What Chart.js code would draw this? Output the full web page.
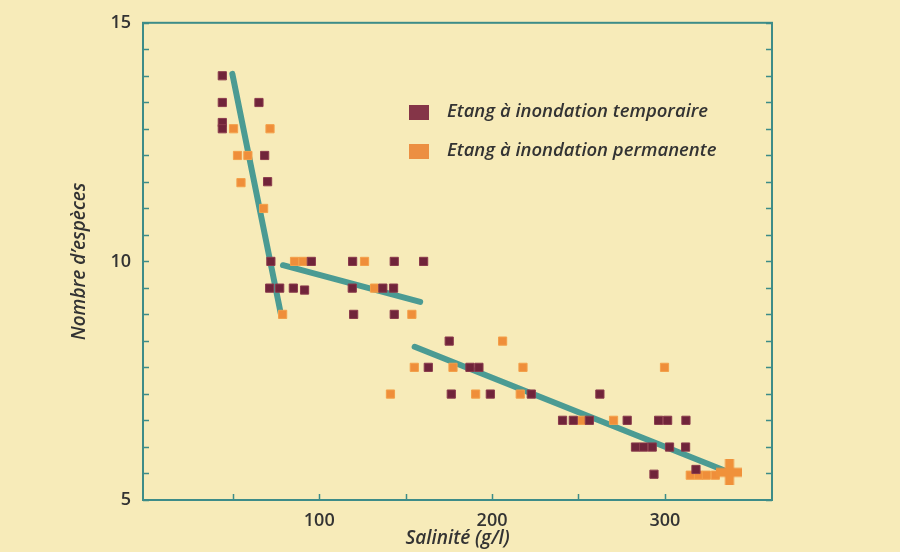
<!DOCTYPE html>
<html lang="fr">
<head>
<meta charset="utf-8">
<title>Nombre d'espèces et salinité</title>
<script src="https://cdn.jsdelivr.net/npm/chart.js@4.4.1/dist/chart.umd.min.js"></script>
<style>
  html, body { margin: 0; padding: 0; background: #f7ebb9; }
  #wrap { width: 900px; height: 552px; position: relative; }
</style>
</head>
<body>
<div id="wrap"><canvas id="graphique"></canvas></div>
<script>
// Etang à inondation temporaire (salinité g/l, nombre d'espèces)
const tempSalinite = [43.9, 43.9, 65.1, 43.9, 43.9, 68.4, 70.1, 72.0, 95.4, 119.3, 143.4, 160.4,
  71.3, 77.1, 85.0, 91.5, 119.1, 136.8, 143.0, 119.9, 143.4, 175.2, 163.1, 187.2, 192.4,
  176.4, 199.0, 222.7, 262.4, 240.8, 247.0, 256.3, 278.2, 296.4, 301.6, 312.2,
  283.0, 287.7, 292.7, 302.7, 312.0, 293.7, 318.0];
const tempEspeces = [13.89, 13.33, 13.33, 12.91, 12.78, 12.22, 11.67, 10.0, 10.0, 10.0, 10.0, 10.0,
  9.44, 9.44, 9.44, 9.4, 9.44, 9.44, 9.44, 8.89, 8.89, 8.33, 7.78, 7.78, 7.78,
  7.22, 7.22, 7.22, 7.22, 6.67, 6.67, 6.67, 6.67, 6.67, 6.67, 6.67,
  6.11, 6.11, 6.11, 6.11, 6.11, 5.54, 5.64];

// Etang à inondation permanente
const permSalinite = [50.4, 71.5, 52.7, 58.7, 54.7, 67.8, 85.7, 90.6, 126.2, 132.0, 78.8, 153.6,
  206.1, 155.0, 177.4, 217.9, 299.8, 141.2, 190.5, 216.3, 252.0, 270.3, 314.7, 319.5, 324.0, 329.2];
const permEspeces = [12.78, 12.78, 12.22, 12.22, 11.65, 11.11, 10.0, 10.0, 10.0, 9.44, 8.89, 8.89,
  8.33, 7.78, 7.78, 7.78, 7.78, 7.22, 7.22, 7.22, 6.67, 6.67, 5.52, 5.52, 5.52, 5.52];

// la grosse croix en bas à droite
const croixSalinite = [337.4];
const croixEspeces = [5.58];

// droites de tendance (début, fin)
const droite1X = [49.7, 78.0];
const droite1Y = [13.93, 8.86];
const droite2X = [79.0, 158.4];
const droite2Y = [9.92, 9.15];
const droite3X = [155.2, 333.8];
const droite3Y = [8.21, 5.63];

// graduations
const xTicks = [50, 100, 150, 200, 250, 300];
const xLabels = [100, 200, 300];
const yTicks = [5, 5.556, 6.111, 6.667, 7.222, 7.778, 8.333, 8.889, 9.444, 10,
  10.556, 11.111, 11.667, 12.222, 12.778, 13.333, 13.889, 14.444, 15];
const yLabels = [5, 10, 15];

const teal = "#3d8c88";
const bordeaux = "#70243a";
const orange = "#ef8e3a";
const texte = "#333333";

function zip(xs, ys) {
  return xs.map((x, i) => ({ x: x, y: ys[i] }));
}

function droite(xs, ys) {
  return {
    label: "",
    data: zip(xs, ys),
    showLine: true,
    borderColor: "#4b9b93",
    borderWidth: 6,
    borderCapStyle: "round",
    pointRadius: 0,
    order: 2
  };
}

// croix épaisse dessinée une fois, utilisée comme pointStyle
const croix = document.createElement("canvas");
croix.width = 26;
croix.height = 26;
const cctx = croix.getContext("2d");
cctx.fillStyle = "#f0913a";
cctx.fillRect(8.5, 0, 9, 26);
cctx.fillRect(0, 8.5, 26, 9);

// cadre, graduations vers l'intérieur et légende
const cadre = {
  id: "cadre",
  beforeDatasetsDraw(chart) {
    const { ctx, chartArea: a, scales } = chart;
    ctx.save();
    ctx.strokeStyle = teal;
    ctx.lineWidth = 2;
    ctx.strokeRect(a.left, a.top, a.right - a.left, a.bottom - a.top);
    ctx.lineWidth = 1.5;
    ctx.beginPath();
    scales.y.ticks.forEach(t => {
      const py = Math.round(scales.y.getPixelForValue(t.value)) + 0.5;
      ctx.moveTo(a.left, py); ctx.lineTo(a.left + 6, py);
      ctx.moveTo(a.right, py); ctx.lineTo(a.right - 6, py);
    });
    scales.x.ticks.forEach(t => {
      const px = Math.round(scales.x.getPixelForValue(t.value)) + 0.5;
      ctx.moveTo(px, a.bottom); ctx.lineTo(px, a.bottom - 6);
    });
    ctx.stroke();
    ctx.restore();
  },
  afterDraw(chart) {
    const ctx = chart.ctx;
    const items = [
      { text: chart.data.datasets[0].label, color: "#853548", y: 112 },
      { text: chart.data.datasets[1].label, color: "#ec8f42", y: 151 }
    ];
    ctx.save();
    ctx.font = 'italic 600 18.5px "Open Sans"';
    ctx.textBaseline = "middle";
    items.forEach(it => {
      ctx.fillStyle = it.color;
      ctx.fillRect(409, it.y - 7, 20, 15);
      ctx.fillStyle = texte;
      ctx.fillText(it.text, 447, it.y);
    });
    ctx.restore();
  }
};

new Chart(document.getElementById("graphique"), {
  type: "scatter",
  data: {
    datasets: [
      {
        label: "Etang à inondation temporaire",
        data: zip(tempSalinite, tempEspeces),
        pointStyle: "rect",
        pointRadius: 5.8,
        backgroundColor: bordeaux,
        borderColor: "#8a3a4c",
        borderWidth: 1,
        order: 1
      },
      {
        label: "Etang à inondation permanente",
        data: zip(permSalinite, permEspeces),
        pointStyle: "rect",
        pointRadius: 5.8,
        backgroundColor: orange,
        borderColor: "#f3a04a",
        borderWidth: 1,
        order: 1
      },
      {
        label: "",
        data: zip(croixSalinite, croixEspeces),
        pointStyle: croix,
        pointRadius: 13,
        order: 0
      },
      droite(droite1X, droite1Y),
      droite(droite2X, droite2Y),
      droite(droite3X, droite3Y)
    ]
  },
  options: {
    responsive: true,
    maintainAspectRatio: false,
    animation: false,
    layout: { padding: { left: 0, right: 128, top: 21, bottom: 0 } },
    plugins: {
      legend: { display: false },
      tooltip: { enabled: false }
    },
    scales: {
      x: {
        type: "linear",
        min: -2,
        max: 362,
        grid: { display: false, drawTicks: false },
        border: { display: false },
        afterBuildTicks: (axis) => { axis.ticks = xTicks.map(v => ({ value: v })); },
        afterFit: (axis) => { axis.height = 52; },
        ticks: {
          padding: 10,
          color: texte,
          font: { family: "Open Sans", size: 18, weight: "600" },
          callback: (value) => xLabels.includes(value) ? String(value) : ""
        },
        title: {
          display: true,
          text: "Salinité (g/l)",
          color: texte,
          padding: { top: 0, bottom: 2 },
          font: { family: "Open Sans", size: 19, style: "italic", weight: "600" }
        }
      },
      y: {
        type: "linear",
        min: 5,
        max: 15,
        grid: { display: false, drawTicks: false },
        border: { display: false },
        afterBuildTicks: (axis) => { axis.ticks = yTicks.map(v => ({ value: v })); },
        afterFit: (axis) => { axis.width = 143; },
        ticks: {
          padding: 12,
          autoSkip: false,
          color: texte,
          font: { family: "Open Sans", size: 18, weight: "600" },
          callback: (value) => yLabels.includes(value) ? String(value) : ""
        },
        title: {
          display: true,
          text: "Nombre d’espèces",
          color: texte,
          padding: { top: 68, bottom: 0 },
          font: { family: "Open Sans", size: 19, style: "italic", weight: "600" }
        }
      }
    }
  },
  plugins: [cadre]
});
</script>
</body>
</html>
